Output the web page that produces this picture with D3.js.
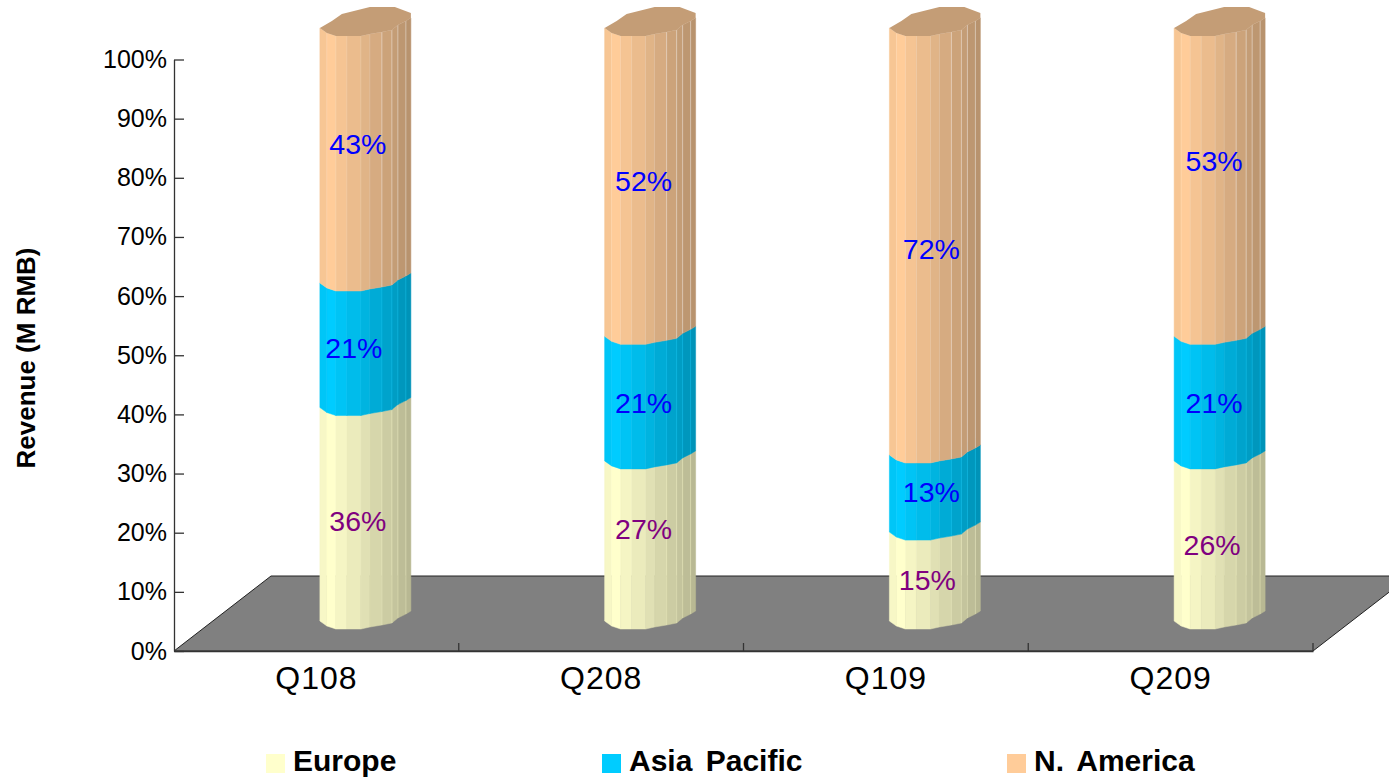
<!DOCTYPE html>
<html>
<head>
<meta charset="utf-8">
<script src="https://cdn.jsdelivr.net/npm/d3@7"></script>
<style>
  html, body { margin: 0; padding: 0; background: #fff; }
  svg { display: block; }
  text { font-family: "Liberation Sans", Arial, sans-serif; fill: #000; }
  .axis path, .axis line { stroke: #333; stroke-width: 1.3; }
</style>
</head>
<body>
<div id="chart"></div>
<script>
// Data
const quarters = ["Q108", "Q208", "Q109", "Q209"];
const seriesNames = ["Europe", "Asia Pacific", "N. America"];
const europe = [36, 27, 15, 27];
const asiaPacific = [21, 21, 13, 21];
const nAmerica = [43, 52, 72, 52];
const europeLabels = ["36%", "27%", "15%", "26%"];
const asiaLabels = ["21%", "21%", "13%", "21%"];
const americaLabels = ["43%", "52%", "72%", "53%"];
const yTicks = [0, 10, 20, 30, 40, 50, 60, 70, 80, 90, 100];

const width = 1389;
const height = 777;

const colors = d3.scaleOrdinal().domain(seriesNames).range(["#ffffcc", "#00ccff", "#ffcc99"]);
const labelColors = ["#800080", "#0000ff", "#0000ff"];

// x offset and y lift of each facet edge of the cylinder
const facetX = [0, 7, 16, 27, 41, 50, 62, 72, 78, 86, 91];
const facetLift = [8, 3, 0, 0, 0, 2, 4, 6, 11, 15, 18];
const facetShade = [0.97, 1, 0.96, 0.92, 0.88, 0.84, 0.8, 0.77, 0.74, 0.72];
// back half of the lid, x offset and lift above the front edge
const lidBack = [[91, 23], [75, 29], [50, 29], [22, 22], [12, 15]];
// hand placed data labels in the original, [dx, dy] from the segment centre
const labelNudge = [
  [[-7, -1], [-11, -5], [-7, -19]],
  [[-6, -20], [-6, -4], [-6, -9]],
  [[-7, -5], [-3, -9], [-3, 0]],
  [[-7, -4], [-5, -4], [-5, -29]]
];

const svg = d3.select("#chart").append("svg").attr("width", width).attr("height", height);

const x = d3.scaleBand().domain(quarters).range([174, 1313]);
const y = d3.scaleLinear().domain([0, 100]).range([651, 59.5]);
// front edge of the columns sits a bit higher than the axis because of the depth
const yBar = d3.scaleLinear().domain([0, 100]).range([629, 36]);

const widen = (sel, k) => sel.each(function () {
  this.setAttribute("textLength", this.getComputedTextLength() * k);
  this.setAttribute("lengthAdjust", "spacingAndGlyphs");
});

// Floor
svg.append("path")
  .attr("d", "M174,651 L271,576 L1410,576 L1313,651 Z")
  .attr("fill", "#808080")
  .attr("stroke", "#222")
  .attr("stroke-width", 1);

// Y axis
const yAxis = svg.append("g")
  .attr("class", "axis")
  .attr("transform", "translate(174,0)")
  .call(d3.axisLeft(y).tickValues(yTicks).tickSize(-10).tickSizeOuter(0).tickPadding(7).tickFormat((d) => d + "%"));
yAxis.selectAll("text").style("font-size", "25px");

// X axis, ticks are on the band edges so they are added after
const xAxis = svg.append("g")
  .attr("class", "axis")
  .attr("transform", "translate(0,651)")
  .call(d3.axisBottom(x).tickSize(0).tickSizeOuter(0).tickPadding(15));
xAxis.selectAll("text")
  .style("font-size", "32px")
  .style("letter-spacing", "1px");
xAxis.selectAll(".edge")
  .data(quarters)
  .enter()
  .append("line")
  .attr("class", "edge")
  .attr("x1", (d) => x(d) + x.bandwidth())
  .attr("x2", (d) => x(d) + x.bandwidth())
  .attr("y1", 0)
  .attr("y2", -8);

// Columns
const seriesValues = [europe, asiaPacific, nAmerica];
const seriesLabels = [europeLabels, asiaLabels, americaLabels];
const line = d3.line();

quarters.forEach((q, i) => {
  const left = x(q) + x.bandwidth() / 2 + 3.5;
  let base = 0;
  seriesNames.forEach((name, s) => {
    const top = base + seriesValues[s][i];
    const color = d3.color(colors(name));
    const shade = (k) => d3.rgb(color.r * k, color.g * k, color.b * k).formatHex();

    facetShade.forEach((k, f) => {
      svg.append("path")
        .attr("d", line([
          [left + facetX[f], yBar(base) - facetLift[f]],
          [left + facetX[f + 1], yBar(base) - facetLift[f + 1]],
          [left + facetX[f + 1], yBar(top) - facetLift[f + 1]],
          [left + facetX[f], yBar(top) - facetLift[f]]
        ]) + "Z")
        .attr("fill", shade(k))
        .attr("stroke", shade(k))
        .attr("stroke-width", 0.5);
    });

    // thin light seams between the facets
    facetX.slice(1, -1).forEach((fx, f) => {
      svg.append("line")
        .attr("x1", left + fx)
        .attr("x2", left + fx)
        .attr("y1", yBar(base) - facetLift[f + 1])
        .attr("y2", yBar(top) - facetLift[f + 1] - (s < 2 ? 10 : 0))
        .attr("stroke", s < 2 ? shade(1) : "#fff")
        .attr("stroke-opacity", f > 4 ? 0.4 : 0.15)
        .attr("stroke-width", 1);
    });

    if (s === seriesNames.length - 1) {
      const front = facetX.map((fx, f) => [left + fx, yBar(top) - facetLift[f]]);
      const back = lidBack.map((p) => [left + p[0], yBar(top) - p[1]]);
      svg.append("path")
        .attr("d", d3.line().curve(d3.curveLinearClosed)(front.concat(back)))
        .attr("fill", shade(0.77));
    }
    base = top;
  });
});

// Data labels go on top of all columns
quarters.forEach((q, i) => {
  const left = x(q) + x.bandwidth() / 2 + 3.5;
  let base = 0;
  seriesNames.forEach((name, s) => {
    const value = seriesValues[s][i];
    const nudge = labelNudge[i][s];
    svg.append("text")
      .attr("x", left + 45 + nudge[0])
      .attr("y", yBar(base + value / 2) + nudge[1])
      .attr("dy", "0.35em")
      .attr("text-anchor", "middle")
      .style("font-size", "28.5px")
      .style("fill", labelColors[s])
      .text(seriesLabels[s][i]);
    base += value;
  });
});

// Y axis title
svg.append("text")
  .attr("transform", "translate(35,358) rotate(-90)")
  .attr("text-anchor", "middle")
  .style("font-size", "25px")
  .style("font-weight", "bold")
  .text("Revenue (M RMB)")
  .call(widen, 1.04);

// Legend
const legendX = d3.scaleOrdinal().domain(seriesNames).range([266, 602, 1007]);
const legend = svg.selectAll(".legend-item")
  .data(seriesNames)
  .enter()
  .append("g")
  .attr("class", "legend-item")
  .attr("transform", (d) => `translate(${legendX(d)},754)`);

legend.append("rect")
  .attr("width", 19)
  .attr("height", 19)
  .attr("fill", (d) => colors(d));

legend.append("text")
  .attr("x", 27)
  .attr("y", 17)
  .style("font-size", "30px")
  .style("font-weight", "bold")
  .style("word-spacing", "5px")
  .text((d) => d);
</script>
</body>
</html>
